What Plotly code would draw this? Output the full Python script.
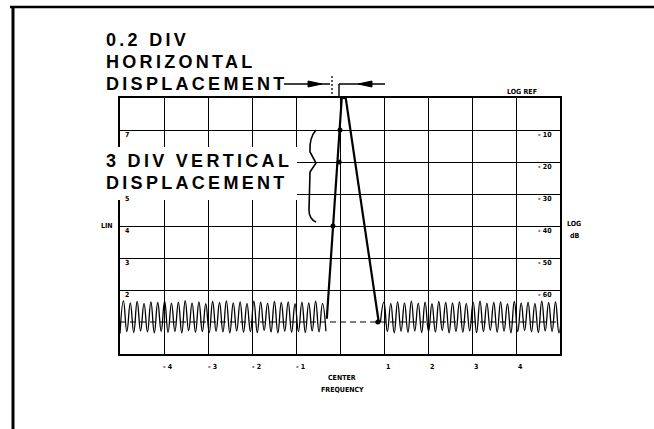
import plotly.graph_objects as go

# ---------------- data ----------------
# graticule: 10 horizontal divisions (-5..5), 8 vertical divisions (0..8, LIN scale)
x_tick_vals = [-4, -3, -2, -1, 1, 2, 3, 4]
x_tick_text = ["- 4", "- 3", "- 2", "- 1", "1", "2", "3", "4"]
lin_vals = [7, 5, 4, 3, 2]
lin_text = ["7", "5", "4", "3", "2"]
log_vals = [7, 6, 5, 4, 3, 2]
log_text = ["- 10", "- 20", "- 30", "- 40", "- 50", "- 60"]

# signal (the displaced peak)
signal_x = [-0.30, 0.04, 0.13, 0.88]
signal_y = [1.10, 8.00, 8.00, 1.00]

# dots where the trace crosses graticule lines
dot_x = [0.00, -0.02, -0.16, 0.86]
dot_y = [7.0, 6.0, 4.0, 1.0]

# noise floor, read as alternating spike tops / bottoms
noise_left_start, noise_left_step = -5.0, 0.078
noise_left_y = [0.64, 1.66, 0.70, 1.60, 0.67, 1.64, 0.72, 1.58, 0.69, 1.63, 0.66, 1.61,
                0.71, 1.65, 0.68, 1.59, 0.70, 1.62, 0.66, 1.67, 0.73, 1.60, 0.68, 1.63,
                0.70, 1.57, 0.67, 1.64, 0.71, 1.61, 0.69, 1.66, 0.66, 1.60, 0.72, 1.63,
                0.68, 1.58, 0.70, 1.65, 0.67, 1.62, 0.73, 1.59, 0.69, 1.64, 0.66, 1.61,
                0.71, 1.63, 0.68, 1.57, 0.70, 1.62, 0.67, 1.60, 0.72, 1.65, 0.69, 1.58,
                0.71]
noise_right_start, noise_right_step = 0.92, 0.078
noise_right_y = [1.00, 1.62, 0.70, 1.58, 0.66, 1.63, 0.71, 1.60, 0.68, 1.65, 0.72, 1.59,
                 0.67, 1.62, 0.70, 1.57, 0.69, 1.64, 0.73, 1.61, 0.66, 1.60, 0.70, 1.63,
                 0.68, 1.58, 0.72, 1.62, 0.67, 1.65, 0.70, 1.59, 0.74, 1.61, 0.68, 1.63,
                 0.71, 1.57, 0.66, 1.64, 0.70, 1.60, 0.73, 1.62, 0.69, 1.58, 0.67, 1.65,
                 0.72, 1.61, 0.70, 1.63, 0.66, 1.60]

noise_left_x = [noise_left_start + i * noise_left_step for i in range(len(noise_left_y))]
noise_right_x = [noise_right_start + i * noise_right_step for i in range(len(noise_right_y))]

# ---------------- layout geometry (pixels) ----------------
W, H = 654, 429
L, R, T, B = 120, 560, 98, 354


def PX(px):
    return (px - L) / (R - L)


def PY(py):
    return (B - py) / (B - T)


fig = go.Figure()

fig.add_trace(go.Scatter(x=noise_left_x, y=noise_left_y, mode="lines",
                         line=dict(color="black", width=1.3, shape="spline", smoothing=1.3),
                         hoverinfo="skip"))
fig.add_trace(go.Scatter(x=noise_right_x, y=noise_right_y, mode="lines",
                         line=dict(color="black", width=1.3, shape="spline", smoothing=1.3),
                         hoverinfo="skip"))
fig.add_trace(go.Scatter(x=signal_x, y=signal_y, mode="lines",
                         line=dict(color="black", width=2.2), hoverinfo="skip"))
fig.add_trace(go.Scatter(x=dot_x, y=dot_y, mode="markers",
                         marker=dict(color="black", size=5), hoverinfo="skip"))

shapes = []
# outer frame (top and left only)
shapes.append(dict(type="line", xref="paper", yref="paper", x0=PX(10), x1=PX(654),
                   y0=PY(7), y1=PY(7), line=dict(color="black", width=2.5)))
shapes.append(dict(type="line", xref="paper", yref="paper", x0=PX(13), x1=PX(13),
                   y0=PY(7), y1=PY(429), line=dict(color="black", width=3)))
# dashed graticule line at division 1 (mostly covered by noise)
shapes.append(dict(type="line", xref="x", yref="y", x0=-5, x1=5, y0=1, y1=1,
                   layer="below", line=dict(color="black", width=1.2, dash="6px,4px")))
# white box behind the vertical-displacement label
shapes.append(dict(type="rect", xref="paper", yref="paper", x0=PX(98), x1=PX(297),
                   y0=PY(200), y1=PY(147), fillcolor="white", line=dict(width=0),
                   layer="above"))
# brace
bp = [(316, 130), (309, 138), (310, 152), (316, 163), (310, 172), (309, 210), (316, 222)]
path = (f"M {PX(bp[0][0])},{PY(bp[0][1])} Q {PX(bp[1][0])},{PY(bp[1][1])} {PX(bp[2][0])},{PY(bp[2][1])} "
        f"L {PX(bp[3][0])},{PY(bp[3][1])} L {PX(bp[4][0])},{PY(bp[4][1])} "
        f"L {PX(bp[5][0])},{PY(bp[5][1])} Q {PX(309)},{PY(219)} {PX(bp[6][0])},{PY(bp[6][1])}")
shapes.append(dict(type="path", xref="paper", yref="paper", path=path,
                   line=dict(color="black", width=1.6)))
# horizontal displacement arrows
shapes.append(dict(type="line", xref="paper", yref="paper", x0=PX(284), x1=PX(330),
                   y0=PY(84), y1=PY(84), line=dict(color="black", width=1.6)))
shapes.append(dict(type="path", xref="paper", yref="paper",
                   path=f"M {PX(308)},{PY(81)} L {PX(322)},{PY(84)} L {PX(308)},{PY(87)} Z",
                   fillcolor="black", line=dict(color="black", width=1)))
shapes.append(dict(type="line", xref="paper", yref="paper", x0=PX(332), x1=PX(332),
                   y0=PY(76), y1=PY(98), line=dict(color="black", width=1.3, dash="2px,2px")))
shapes.append(dict(type="line", xref="paper", yref="paper", x0=PX(339), x1=PX(339),
                   y0=PY(84), y1=PY(98), line=dict(color="black", width=1.4)))
shapes.append(dict(type="line", xref="paper", yref="paper", x0=PX(339), x1=PX(385),
                   y0=PY(84), y1=PY(84), line=dict(color="black", width=1.6)))
shapes.append(dict(type="path", xref="paper", yref="paper",
                   path=f"M {PX(372)},{PY(81)} L {PX(358)},{PY(84)} L {PX(372)},{PY(87)} Z",
                   fillcolor="black", line=dict(color="black", width=1)))

ann = []
BIG = dict(family="Liberation Sans, Arial, sans-serif", size=18, color="black")
SMALL = dict(family="DejaVu Sans Condensed, DejaVu Sans, sans-serif", size=7, color="black")


def big(text, px, py):
    ann.append(dict(text=f'<span style="letter-spacing:3.3px"><b>{text}</b></span>',
                    xref="paper", yref="paper", x=PX(px), y=PY(py), xanchor="left",
                    yanchor="middle", showarrow=False, font=BIG))


def small(text, px, py, anchor="center"):
    ann.append(dict(text=f"<b>{text}</b>", xref="paper", yref="paper", x=PX(px), y=PY(py),
                    xanchor=anchor, yanchor="middle", showarrow=False, font=SMALL))


big("0.2 DIV", 104, 40)
big("HORIZONTAL", 104, 62)
big("DISPLACEMENT", 104, 84)
big("3 DIV VERTICAL", 104, 161)
big("DISPLACEMENT", 104, 183)

small("LOG REF", 522, 92)
small("LIN", 107, 226)
small("LOG", 574, 224)
small("dB", 575, 236)
small("CENTER", 342, 378)
small("FREQUENCY", 342, 390)

for v, t in zip(lin_vals, lin_text):
    ann.append(dict(text=f"<b>{t}</b>", xref="x", yref="y", x=-4.93, y=v - 0.17,
                    xanchor="left", yanchor="middle", showarrow=False, font=SMALL))
for v, t in zip(log_vals, log_text):
    ann.append(dict(text=f"<b>{t}</b>", xref="x", yref="y", x=4.87, y=v - 0.17,
                    xanchor="right", yanchor="middle", showarrow=False, font=SMALL))
for v, t in zip(x_tick_vals, x_tick_text):
    ann.append(dict(text=f"<b>{t}</b>", xref="x", yref="paper", x=v + 0.1, y=PY(367),
                    xanchor="center", yanchor="middle", showarrow=False, font=SMALL))

fig.update_layout(
    width=W, height=H,
    margin=dict(l=L, r=W - R, t=T, b=H - B),
    paper_bgcolor="white", plot_bgcolor="white",
    showlegend=False,
    shapes=shapes, annotations=ann,
    xaxis=dict(range=[-5, 5], tickmode="linear", tick0=-5, dtick=1, showgrid=True,
               gridcolor="black", gridwidth=1.3, showline=True, mirror=True,
               linecolor="black", linewidth=2, zeroline=False, showticklabels=False,
               ticks="", fixedrange=True),
    yaxis=dict(range=[0, 8], tickmode="array", tickvals=[2, 3, 4, 5, 6, 7], showgrid=True,
               gridcolor="black", gridwidth=1.3, showline=True, mirror=True,
               linecolor="black", linewidth=2, zeroline=False, showticklabels=False,
               ticks="", fixedrange=True),
)

fig.write_html("out.html", config={"displayModeBar": False},
               post_script="document.body.style.margin='0';document.body.style.overflow='hidden';")
